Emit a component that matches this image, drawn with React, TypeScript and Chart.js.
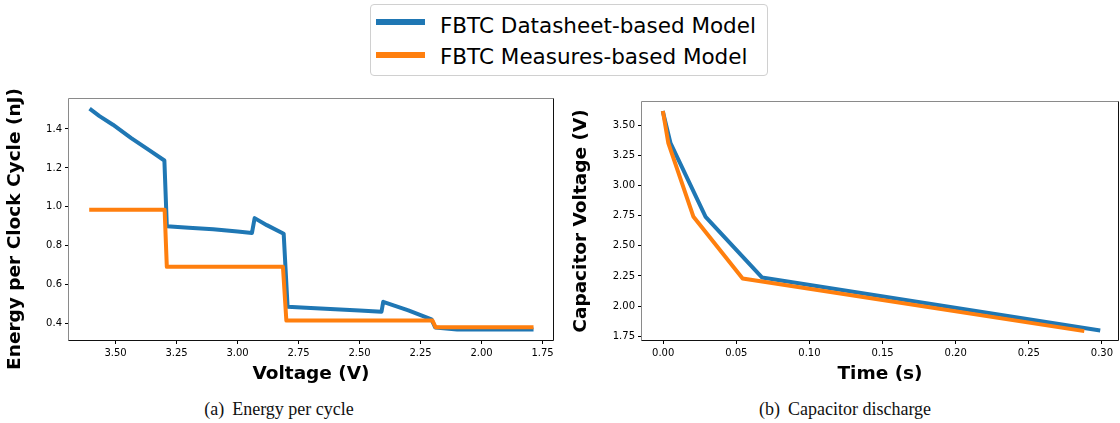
import React, { useEffect, useRef } from 'react';
import { Chart, registerables } from 'chart.js';

Chart.register(...registerables);

// ---- Data ----
const seriesNames = ['FBTC Datasheet-based Model', 'FBTC Measures-based Model'];

// (a) Energy per cycle
const voltageDatasheet = [3.60, 3.566, 3.511, 3.436, 3.361, 3.30, 3.29, 3.20, 3.10, 3.00, 2.941, 2.930, 2.88, 2.811, 2.795, 2.70, 2.60, 2.50, 2.41, 2.403, 2.30, 2.205, 2.19, 2.10, 2.00, 1.90, 1.795];
const energyDatasheet = [1.498, 1.466, 1.422, 1.353, 1.29, 1.238, 0.900, 0.893, 0.885, 0.873, 0.866, 0.942, 0.906, 0.862, 0.487, 0.481, 0.474, 0.468, 0.461, 0.512, 0.468, 0.422, 0.380, 0.370, 0.370, 0.370, 0.370];
const voltageMeasures = [3.60, 3.299, 3.29, 2.814, 2.80, 2.201, 2.188, 1.795];
const energyMeasures = [0.985, 0.985, 0.692, 0.692, 0.416, 0.416, 0.381, 0.381];

// (b) Capacitor discharge
const timeDatasheet = [0, 0.005, 0.029, 0.0675, 0.2975];
const vcapDatasheet = [3.60, 3.35, 2.74, 2.237, 1.80];
const timeMeasures = [0, 0.0035, 0.0207, 0.0543, 0.2866];
const vcapMeasures = [3.60, 3.35, 2.74, 2.228, 1.795];

// Tick steps
const energyTickStep = 0.2;
const voltageTickStep = 0.25;
const timeTickStep = 0.05;
const vcapTickStep = 0.25;

const BLUE = '#1f77b4';
const ORANGE = '#ff7f0e';
const FONT = "'DejaVu Sans', sans-serif";

const zip = (xs: number[], ys: number[]) => xs.map((x, i) => ({ x, y: ys[i] }));

const framePlugin = {
  id: 'frame',
  afterDraw(chart: any) {
    const { ctx, chartArea: a } = chart;
    const l = Math.round(a.left) - 0.5;
    const r = Math.round(a.right) + 0.5;
    const t = Math.round(a.top) - 0.5;
    const b = Math.round(a.bottom) + 0.5;
    ctx.save();
    ctx.lineWidth = 1;
    ctx.strokeStyle = '#8a8a8a';
    ctx.beginPath();
    ctx.moveTo(l, b);
    ctx.lineTo(l, t);
    ctx.lineTo(r, t);
    ctx.stroke();
    ctx.strokeStyle = '#111';
    ctx.beginPath();
    ctx.moveTo(r, t);
    ctx.lineTo(r, b);
    ctx.lineTo(l, b);
    ctx.stroke();
    ctx.restore();
  },
};

// Draws a rotated y-axis title at a given canvas position (used where the
// title is longer than the plot and sits off-centre in the reference).
const yTitlePlugin = {
  id: 'yTitleFree',
  afterDraw(chart: any, _args: any, opts: any) {
    if (!opts || !opts.text) return;
    const { ctx } = chart;
    ctx.save();
    ctx.translate(opts.x, opts.y);
    ctx.rotate(-Math.PI / 2);
    ctx.font = `bold ${opts.size}px ${FONT}`;
    ctx.fillStyle = '#000';
    ctx.textAlign = 'center';
    ctx.textBaseline = 'middle';
    ctx.fillText(opts.text, 0, 0);
    ctx.restore();
  },
};

function makeDataset(label: string, data: { x: number; y: number }[], color: string, order: number) {
  return {
    label,
    data,
    borderColor: color,
    backgroundColor: color,
    borderWidth: 4,
    pointRadius: 0,
    tension: 0,
    fill: false,
    borderCapStyle: 'square' as const,
    borderJoinStyle: 'round' as const,
    order,
  };
}

interface AxisCfg {
  min: number;
  max: number;
  step: number;
  decimals: number;
  title: string;
  reverse?: boolean;
}

function makeConfig(
  ds: any[],
  xc: AxisCfg,
  yc: AxisCfg,
  yWidth: number,
  xHeight: number,
  padding: { left: number; top: number; right: number; bottom: number },
  yTitlePad: number,
  xTitlePad: number,
  freeYTitle: any
): any {
  const tickGrid = {
    display: true,
    drawOnChartArea: false,
    drawTicks: true,
    tickLength: 4,
    tickColor: '#000',
    lineWidth: 1,
  };
  return {
    type: 'line',
    data: { datasets: ds },
    options: {
      animation: false,
      responsive: false,
      layout: { padding },
      plugins: {
        legend: { display: false },
        tooltip: { enabled: false },
        yTitleFree: freeYTitle || {},
      },
      scales: {
        x: {
          type: 'linear',
          min: xc.min,
          max: xc.max,
          reverse: !!xc.reverse,
          grid: tickGrid,
          border: { display: false },
          ticks: {
            stepSize: xc.step,
            includeBounds: false,
            maxRotation: 0,
            autoSkip: false,
            padding: 3,
            color: '#000',
            font: { family: FONT, size: 10 },
            callback: (v: number) => Number(v).toFixed(xc.decimals),
          },
          title: {
            display: true,
            text: xc.title,
            color: '#000',
            font: { family: FONT, size: 18.5, weight: 'bold' },
            padding: { top: 0, bottom: xTitlePad },
          },
          afterFit: (s: any) => {
            s.height = xHeight;
          },
        },
        y: {
          type: 'linear',
          min: yc.min,
          max: yc.max,
          grid: tickGrid,
          border: { display: false },
          ticks: {
            stepSize: yc.step,
            includeBounds: false,
            autoSkip: false,
            padding: 3,
            color: '#000',
            font: { family: FONT, size: 10 },
            callback: (v: number) => Number(v).toFixed(yc.decimals),
          },
          title: {
            display: !freeYTitle,
            text: yc.title,
            color: '#000',
            font: { family: FONT, size: 18.5, weight: 'bold' },
            padding: { top: yTitlePad, bottom: 0 },
          },
          afterFit: (s: any) => {
            s.width = yWidth;
          },
        },
      },
    },
    plugins: [framePlugin, yTitlePlugin],
  };
}

function ChartCanvas({ config, left, top, width, height }: any) {
  const ref = useRef<HTMLCanvasElement | null>(null);
  useEffect(() => {
    if (!ref.current) return;
    const chart = new Chart(ref.current, config);
    return () => chart.destroy();
  }, []);
  return (
    <canvas
      ref={ref}
      width={width}
      height={height}
      style={{ position: 'absolute', left, top, width, height }}
    />
  );
}

const energyAxisTitle = 'Energy per Clock Cycle (nJ)';

export default function App() {
  const leftConfig = makeConfig(
    [
      makeDataset(seriesNames[0], zip(voltageDatasheet, energyDatasheet), BLUE, 1),
      makeDataset(seriesNames[1], zip(voltageMeasures, energyMeasures), ORANGE, 0),
    ],
    { min: 1.707, max: 3.691, step: voltageTickStep, decimals: 2, title: 'Voltage (V)', reverse: true },
    { min: 0.316, max: 1.554, step: energyTickStep, decimals: 1, title: energyAxisTitle },
    69,
    50,
    { left: 0, top: 29, right: 7, bottom: 0 },
    4,
    5,
    { text: energyAxisTitle, x: 15, y: 159, size: 18.5 }
  );
  const rightConfig = makeConfig(
    [
      makeDataset(seriesNames[0], zip(timeDatasheet, vcapDatasheet), BLUE, 1),
      makeDataset(seriesNames[1], zip(timeMeasures, vcapMeasures), ORANGE, 0),
    ],
    { min: -0.0145, max: 0.311, step: timeTickStep, decimals: 2, title: 'Time (s)' },
    { min: 1.719, max: 3.691, step: vcapTickStep, decimals: 2, title: 'Capacitor Voltage (V)' },
    82,
    50,
    { left: 0, top: 32, right: 2, bottom: 0 },
    10,
    5,
    null
  );

  const legendText: React.CSSProperties = {
    position: 'absolute',
    left: 440,
    fontFamily: FONT,
    fontSize: '21.5px',
    lineHeight: '21.5px',
    color: '#000',
    whiteSpace: 'nowrap',
  };
  const caption: React.CSSProperties = {
    position: 'absolute',
    top: 399,
    height: 20,
    lineHeight: '20px',
    textAlign: 'center',
    fontFamily: "'Liberation Serif', serif",
    fontSize: '18px',
    color: '#111',
    whiteSpace: 'nowrap',
  };

  return (
    <div
      style={{
        position: 'absolute',
        left: 0,
        top: 0,
        width: 1120,
        height: 423,
        background: '#fff',
        overflow: 'hidden',
      }}
    >
      <ChartCanvas config={leftConfig} left={0} top={70} width={560} height={320} />
      <ChartCanvas config={rightConfig} left={560} top={70} width={560} height={320} />

      {/* Shared legend */}
      <div
        style={{
          position: 'absolute',
          left: 370,
          top: 4,
          width: 396,
          height: 70,
          border: '1px solid #d0d0d0',
          borderRadius: 4,
          background: '#fff',
        }}
      />
      <div style={{ position: 'absolute', left: 376, top: 19.3, width: 49, height: 6, background: BLUE }} />
      <div style={{ position: 'absolute', left: 376, top: 51.5, width: 49, height: 6, background: ORANGE }} />
      <div style={{ ...legendText, top: 15.1 }}>{seriesNames[0]}</div>
      <div style={{ ...legendText, top: 45.8 }}>{seriesNames[1]}</div>

      {/* Sub-captions */}
      <div style={{ ...caption, left: 0, width: 558 }}>
        <span>(a)</span>
        <span style={{ marginLeft: 8 }}>Energy per cycle</span>
      </div>
      <div style={{ ...caption, left: 565, width: 560 }}>
        <span>(b)</span>
        <span style={{ marginLeft: 8 }}>Capacitor discharge</span>
      </div>
    </div>
  );
}
